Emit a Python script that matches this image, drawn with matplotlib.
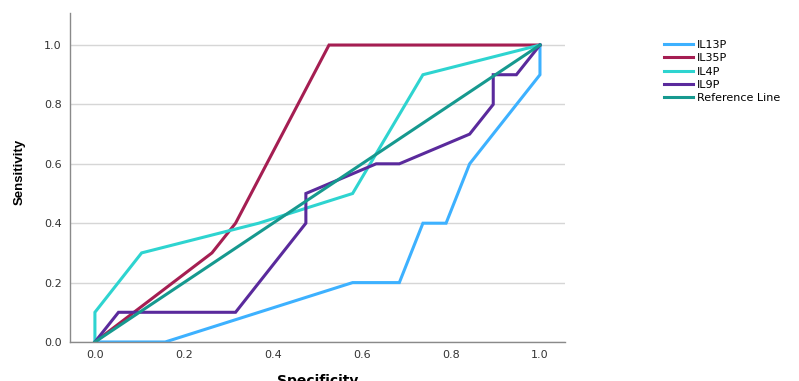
import matplotlib
matplotlib.use("Agg")
import matplotlib.pyplot as plt

# ROC curves: x = specificity axis, y = sensitivity
il13_x = [0.0, 0.158, 0.579, 0.684, 0.737, 0.789, 0.842, 1.0, 1.0]
il13_y = [0.0, 0.0, 0.2, 0.2, 0.4, 0.4, 0.6, 0.9, 1.0]

il35_x = [0.0, 0.263, 0.316, 0.526, 1.0]
il35_y = [0.0, 0.3, 0.4, 1.0, 1.0]

il4_x = [0.0, 0.0, 0.105, 0.368, 0.579, 0.737, 1.0]
il4_y = [0.0, 0.1, 0.3, 0.4, 0.5, 0.9, 1.0]

il9_x = [0.0, 0.053, 0.316, 0.474, 0.474, 0.632, 0.684, 0.842, 0.895, 0.895, 0.947, 1.0]
il9_y = [0.0, 0.1, 0.1, 0.4, 0.5, 0.6, 0.6, 0.7, 0.8, 0.9, 0.9, 1.0]

ref_x = [0.0, 1.0]
ref_y = [0.0, 1.0]

labels = ["IL13P", "IL35P", "IL4P", "IL9P", "Reference Line"]
colors = ["#3DB1FF", "#A51E52", "#2ED4D0", "#5A2A9C", "#16998F"]
ticks = [0.0, 0.2, 0.4, 0.6, 0.8, 1.0]

fig = plt.figure(figsize=(7.99, 3.81), dpi=100)
ax = fig.add_axes([0.0876, 0.1024, 0.6194, 0.8636])

series = [(il13_x, il13_y), (il35_x, il35_y), (il4_x, il4_y), (il9_x, il9_y), (ref_x, ref_y)]
for (xs, ys), lab, c in zip(series, labels, colors):
    ax.plot(xs, ys, color=c, linewidth=2.2, label=lab, solid_joinstyle="miter")

ax.set_xlim(-0.056, 1.056)
ax.set_ylim(0.0, 1.108)
ax.set_xticks(ticks)
ax.set_yticks(ticks)
ax.set_xticklabels([f"{t:.1f}" for t in ticks])
ax.set_yticklabels([f"{t:.1f}" for t in ticks])
ax.tick_params(length=0, labelsize=8, colors="#333333", pad=6)
ax.yaxis.grid(True, color="#D6D6D6", linewidth=1.0)
ax.set_axisbelow(True)

for s in ["top", "right"]:
    ax.spines[s].set_visible(False)
for s in ["left", "bottom"]:
    ax.spines[s].set_color("#8A8A8A")
    ax.spines[s].set_linewidth(1.0)

ax.set_xlabel("Specificity", fontsize=10, fontweight="bold", labelpad=10)
ax.set_ylabel("Sensitivity", fontsize=9.5, fontweight="bold",
              family="Liberation Sans")
ax.yaxis.set_label_coords(-0.089, 0.518)

fig.legend(loc="upper left", bbox_to_anchor=(0.825, 0.907), frameon=False,
           prop={"family": "DejaVu Sans", "size": 8},
           handlelength=2.6, handletextpad=0.4, labelspacing=0.3,
           borderaxespad=0)

fig.savefig("out.png", dpi=100)
